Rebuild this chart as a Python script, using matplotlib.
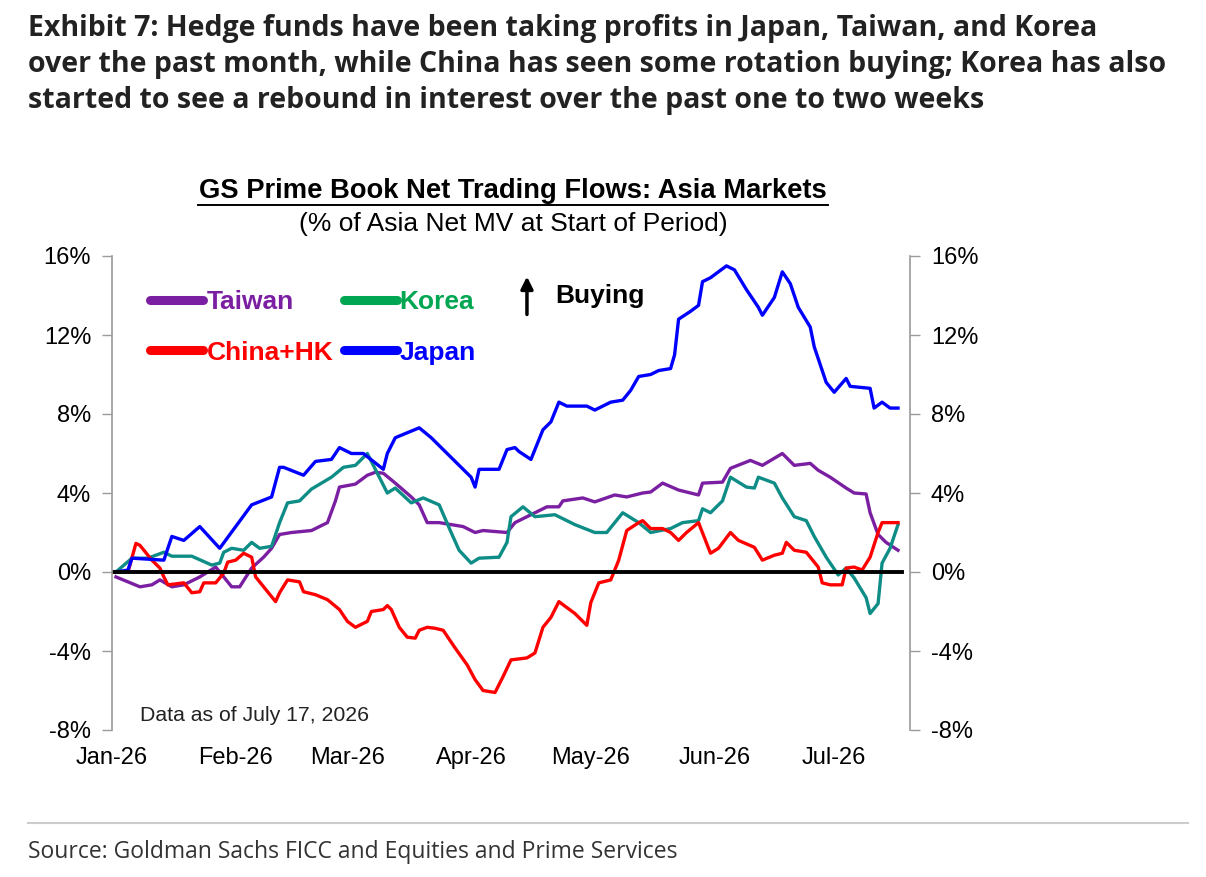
import matplotlib
matplotlib.use("Agg")
import matplotlib.pyplot as plt
import matplotlib.dates as mdates
from matplotlib.lines import Line2D
import pandas as pd

# data (% of Asia net MV)
japan_dates = ['2026-01-02', '2026-01-05', '2026-01-06', '2026-01-14', '2026-01-16', '2026-01-19',
               '2026-01-23', '2026-01-28', '2026-02-05', '2026-02-10', '2026-02-12', '2026-02-13',
               '2026-02-18', '2026-02-21', '2026-02-25', '2026-02-27', '2026-03-02', '2026-03-05',
               '2026-03-10', '2026-03-11', '2026-03-13', '2026-03-19', '2026-03-22', '2026-03-27',
               '2026-04-01', '2026-04-02', '2026-04-03', '2026-04-08', '2026-04-10', '2026-04-12',
               '2026-04-13', '2026-04-16', '2026-04-18', '2026-04-19', '2026-04-21', '2026-04-23',
               '2026-04-25', '2026-04-30', '2026-05-02', '2026-05-06', '2026-05-09', '2026-05-11',
               '2026-05-13', '2026-05-16', '2026-05-18', '2026-05-21', '2026-05-22', '2026-05-23',
               '2026-05-26', '2026-05-28', '2026-05-29', '2026-05-31', '2026-06-04', '2026-06-06',
               '2026-06-09', '2026-06-12', '2026-06-13', '2026-06-16', '2026-06-18', '2026-06-20',
               '2026-06-22', '2026-06-25', '2026-06-26', '2026-06-28', '2026-06-29', '2026-07-01',
               '2026-07-04', '2026-07-05', '2026-07-10', '2026-07-11', '2026-07-13', '2026-07-15',
               '2026-07-17']
japan = [0.0, 0.1, 0.7, 0.6, 1.8, 1.6, 2.3, 1.2, 3.4, 3.8, 5.3, 5.3,
         4.9, 5.6, 5.7, 6.3, 6.0, 6.0, 5.2, 6.0, 6.8, 7.3, 6.8, 5.8,
         4.8, 4.3, 5.2, 5.2, 6.2, 6.3, 6.1, 5.7, 6.7, 7.2, 7.6, 8.6,
         8.4, 8.4, 8.2, 8.6, 8.7, 9.2, 9.9, 10.0, 10.2, 10.3, 11.0, 12.8,
         13.2, 13.5, 14.7, 14.9, 15.5, 15.3, 14.3, 13.4, 13.0, 13.9, 15.2, 14.6,
         13.4, 12.4, 11.4, 10.2, 9.6, 9.1, 9.8, 9.4, 9.3, 8.3, 8.6, 8.3,
         8.3]

korea_dates = ['2026-01-02', '2026-01-06', '2026-01-10', '2026-01-14', '2026-01-16', '2026-01-21',
               '2026-01-26', '2026-01-28', '2026-01-29', '2026-01-31', '2026-02-03', '2026-02-05',
               '2026-02-07', '2026-02-10', '2026-02-12', '2026-02-14', '2026-02-17', '2026-02-20',
               '2026-02-25', '2026-02-28', '2026-03-03', '2026-03-06', '2026-03-09', '2026-03-11',
               '2026-03-13', '2026-03-17', '2026-03-20', '2026-03-24', '2026-03-27', '2026-03-29',
               '2026-04-01', '2026-04-03', '2026-04-08', '2026-04-10', '2026-04-11', '2026-04-14',
               '2026-04-17', '2026-04-22', '2026-04-27', '2026-05-02', '2026-05-05', '2026-05-09',
               '2026-05-13', '2026-05-16', '2026-05-21', '2026-05-24', '2026-05-28', '2026-05-29',
               '2026-05-31', '2026-06-03', '2026-06-05', '2026-06-09', '2026-06-11', '2026-06-12',
               '2026-06-16', '2026-06-18', '2026-06-21', '2026-06-24', '2026-06-26', '2026-06-29',
               '2026-07-02', '2026-07-04', '2026-07-06', '2026-07-09', '2026-07-10', '2026-07-12',
               '2026-07-13', '2026-07-15', '2026-07-17']
korea = [0.0, 0.7, 0.7, 1.0, 0.8, 0.8, 0.35, 0.45, 1.0, 1.2, 1.1, 1.5,
         1.2, 1.3, 2.5, 3.5, 3.6, 4.2, 4.8, 5.3, 5.4, 6.0, 4.8, 4.0,
         4.25, 3.5, 3.75, 3.4, 2.0, 1.1, 0.45, 0.7, 0.75, 1.5, 2.8, 3.3,
         2.8, 2.9, 2.4, 2.0, 2.0, 3.0, 2.5, 2.0, 2.2, 2.5, 2.6, 3.2,
         3.0, 3.6, 4.8, 4.3, 4.25, 4.8, 4.5, 3.75, 2.8, 2.6, 1.8, 0.75,
         -0.15, 0.2, -0.3, -1.3, -2.1, -1.6, 0.45, 1.2, 2.4]

taiwan_dates = ['2026-01-02', '2026-01-08', '2026-01-11', '2026-01-13', '2026-01-16', '2026-01-19',
                '2026-01-23', '2026-01-27', '2026-01-28', '2026-01-31', '2026-02-02', '2026-02-05',
                '2026-02-08', '2026-02-10', '2026-02-12', '2026-02-15', '2026-02-20', '2026-02-24',
                '2026-02-26', '2026-02-27', '2026-03-03', '2026-03-06', '2026-03-08', '2026-03-10',
                '2026-03-13', '2026-03-17', '2026-03-19', '2026-03-21', '2026-03-24', '2026-03-30',
                '2026-04-02', '2026-04-04', '2026-04-10', '2026-04-12', '2026-04-16', '2026-04-20',
                '2026-04-23', '2026-04-24', '2026-04-29', '2026-05-02', '2026-05-07', '2026-05-10',
                '2026-05-14', '2026-05-16', '2026-05-19', '2026-05-23', '2026-05-28', '2026-05-29',
                '2026-06-03', '2026-06-05', '2026-06-10', '2026-06-13', '2026-06-18', '2026-06-21',
                '2026-06-25', '2026-06-27', '2026-06-30', '2026-07-04', '2026-07-06', '2026-07-09',
                '2026-07-10', '2026-07-12', '2026-07-14', '2026-07-17']
taiwan = [-0.25, -0.75, -0.65, -0.4, -0.75, -0.65, -0.25, 0.25, 0.0, -0.75, -0.75, 0.2,
          0.75, 1.2, 1.9, 2.0, 2.1, 2.5, 3.6, 4.3, 4.45, 4.9, 5.05, 5.0,
          4.5, 3.8, 3.4, 2.5, 2.5, 2.3, 2.0, 2.1, 2.0, 2.5, 2.9, 3.3,
          3.3, 3.6, 3.75, 3.55, 3.9, 3.8, 4.0, 4.05, 4.5, 4.15, 3.9, 4.5,
          4.55, 5.25, 5.65, 5.4, 6.0, 5.4, 5.5, 5.15, 4.8, 4.25, 4.0, 3.95,
          3.0, 1.9, 1.5, 1.1]

china_dates = ['2026-01-02', '2026-01-05', '2026-01-07', '2026-01-08', '2026-01-11', '2026-01-13',
               '2026-01-14', '2026-01-15', '2026-01-19', '2026-01-21', '2026-01-23', '2026-01-24',
               '2026-01-27', '2026-01-29', '2026-01-30', '2026-02-01', '2026-02-03', '2026-02-05',
               '2026-02-06', '2026-02-08', '2026-02-11', '2026-02-12', '2026-02-14', '2026-02-17',
               '2026-02-18', '2026-02-21', '2026-02-24', '2026-02-27', '2026-03-01', '2026-03-03',
               '2026-03-06', '2026-03-07', '2026-03-10', '2026-03-11', '2026-03-12', '2026-03-14',
               '2026-03-16', '2026-03-18', '2026-03-19', '2026-03-21', '2026-03-23', '2026-03-25',
               '2026-03-28', '2026-03-31', '2026-04-02', '2026-04-04', '2026-04-07', '2026-04-09',
               '2026-04-11', '2026-04-15', '2026-04-17', '2026-04-19', '2026-04-21', '2026-04-23',
               '2026-04-27', '2026-04-30', '2026-05-01', '2026-05-03', '2026-05-06', '2026-05-08',
               '2026-05-10', '2026-05-13', '2026-05-14', '2026-05-16', '2026-05-19', '2026-05-21',
               '2026-05-23', '2026-05-25', '2026-05-28', '2026-05-31', '2026-06-02', '2026-06-05',
               '2026-06-07', '2026-06-11', '2026-06-13', '2026-06-16', '2026-06-18', '2026-06-19',
               '2026-06-21', '2026-06-24', '2026-06-27', '2026-06-28', '2026-06-30', '2026-07-03',
               '2026-07-04', '2026-07-06', '2026-07-08', '2026-07-10', '2026-07-12', '2026-07-13',
               '2026-07-17']
china = [0.0, 0.0, 1.45, 1.35, 0.6, 0.2, -0.25, -0.65, -0.55, -1.05, -1.0, -0.55,
         -0.55, -0.05, 0.5, 0.6, 0.95, 0.75, -0.25, -0.75, -1.5, -1.05, -0.4, -0.5,
         -1.0, -1.15, -1.4, -1.9, -2.5, -2.8, -2.5, -2.0, -1.9, -1.7, -1.9, -2.8,
         -3.3, -3.35, -2.95, -2.8, -2.85, -2.95, -3.85, -4.7, -5.45, -6.0, -6.1, -5.3,
         -4.45, -4.35, -4.1, -2.8, -2.3, -1.5, -2.1, -2.7, -1.55, -0.55, -0.4, 0.6,
         2.1, 2.5, 2.6, 2.2, 2.2, 2.0, 1.6, 2.0, 2.5, 0.95, 1.2, 2.0,
         1.6, 1.25, 0.6, 0.85, 0.95, 1.5, 1.1, 1.0, 0.25, -0.55, -0.65, -0.65,
         0.2, 0.25, 0.1, 0.75, 2.0, 2.5, 2.5]

y_ticks = [-8, -4, 0, 4, 8, 12, 16]
month_ticks = ['2026-01-01', '2026-02-01', '2026-03-01', '2026-04-01', '2026-05-01', '2026-06-01', '2026-07-01']

c_taiwan = '#7B1FA2'
c_korea_line = '#0E8C86'
c_korea_leg = '#00A651'
c_china = '#FF0000'
c_japan = '#0000FF'

fig = plt.figure(figsize=(12.06, 8.77), dpi=100)
ax = fig.add_axes([112 / 1206, 1 - 730 / 877, (910 - 112) / 1206, (730 - 256) / 877])

ax.plot(pd.to_datetime(taiwan_dates), taiwan, color=c_taiwan, lw=2.4)
ax.plot(pd.to_datetime(korea_dates), korea, color=c_korea_line, lw=2.4)
ax.plot(pd.to_datetime(china_dates), china, color=c_china, lw=2.4)
ax.plot(pd.to_datetime(japan_dates), japan, color=c_japan, lw=2.4)
ax.axhline(0, color='black', lw=2.8, xmin=-0.003, xmax=0.99)

ax.set_xlim(pd.Timestamp('2026-01-01'), pd.Timestamp('2026-07-20'))
ax.set_ylim(-8, 16)
ax.set_yticks(y_ticks)
ax.set_yticklabels([f'{t}%' for t in y_ticks])
ax.set_xticks(pd.to_datetime(month_ticks))
ax.xaxis.set_major_formatter(mdates.DateFormatter('%b-%y'))

for s in ['top', 'bottom']:
    ax.spines[s].set_visible(False)
for s in ['left', 'right']:
    ax.spines[s].set_color('#9a9a9a')
    ax.spines[s].set_linewidth(1.2)

ax.tick_params(axis='y', which='both', left=True, right=True, labelleft=True, labelright=True,
               direction='out', length=7, color='#9a9a9a', width=1.0, labelsize=17, pad=8)
ax.tick_params(axis='x', length=0, labelsize=17, pad=12)
for lbl in ax.get_xticklabels():
    lbl.set_family('Liberation Sans')
for t in ax.yaxis.get_major_ticks():
    t.label1.set_family('Liberation Sans')
    t.label2.set_family('Liberation Sans')

# legend in two columns
handles = [Line2D([], [], color=c_taiwan, lw=6.5, solid_capstyle='round'),
           Line2D([], [], color=c_china, lw=6.5, solid_capstyle='round'),
           Line2D([], [], color=c_korea_leg, lw=6.5, solid_capstyle='round'),
           Line2D([], [], color=c_japan, lw=6.5, solid_capstyle='round')]
labels = ['Taiwan', 'China+HK', 'Korea', 'Japan']
leg = ax.legend(handles, labels,
                ncol=2, frameon=False, loc='upper left', bbox_to_anchor=(0.035, 0.95),
                handlelength=2.0, handletextpad=0.12, columnspacing=0.4, labelspacing=1.0,
                borderaxespad=0.0,
                prop={'family': 'Liberation Sans', 'weight': 'bold', 'size': 19})
for txt, col in zip(leg.get_texts(), [c_taiwan, c_china, c_korea_leg, c_japan]):
    txt.set_color(col)

# buying arrow
ax.annotate('', xy=(pd.Timestamp('2026-04-15'), 15.1), xytext=(pd.Timestamp('2026-04-15'), 12.9),
            arrowprops=dict(arrowstyle='-|>', color='black', lw=2.5, mutation_scale=18))
ax.text(pd.Timestamp('2026-04-22'), 13.95, 'Buying', fontsize=19, fontweight='bold',
        family='Liberation Sans', va='center', ha='left')

ax.text(pd.Timestamp('2026-01-08'), -7.25, 'Data as of July 17, 2026', fontsize=15.3,
        family='Liberation Sans', va='center', ha='left', color='#222222')

# chart titles
fig.text(513 / 1206, 1 - 191 / 877, 'GS Prime Book Net Trading Flows: Asia Markets',
         ha='center', va='center', fontsize=19.7, fontweight='bold', family='Liberation Sans')
fig.add_artist(Line2D([198 / 1206, 828 / 1206], [1 - 205 / 877, 1 - 205 / 877],
                      color='black', lw=1.4))
fig.text(513 / 1206, 1 - 224 / 877, '(% of Asia Net MV at Start of Period)',
         ha='center', va='center', fontsize=19, family='Liberation Sans')

fig.text(28 / 1206, 1 - 14 / 877,
         'Exhibit 7: Hedge funds have been taking profits in Japan, Taiwan, and Korea\n'
         'over the past month, while China has seen some rotation buying; Korea has also\n'
         'started to see a rebound in interest over the past one to two weeks',
         ha='left', va='top', fontsize=20.5, fontweight='bold', family='Open Sans',
         color='#222222', linespacing=1.31)

fig.add_artist(Line2D([28 / 1206, 1188 / 1206], [1 - 823 / 877, 1 - 823 / 877],
                      color='#cccccc', lw=1.5))
fig.text(28 / 1206, 1 - 852 / 877, 'Source: Goldman Sachs FICC and Equities and Prime Services',
         ha='left', va='center', fontsize=16.5, family='Open Sans', color='#333333')

fig.savefig('out.png', dpi=100)
